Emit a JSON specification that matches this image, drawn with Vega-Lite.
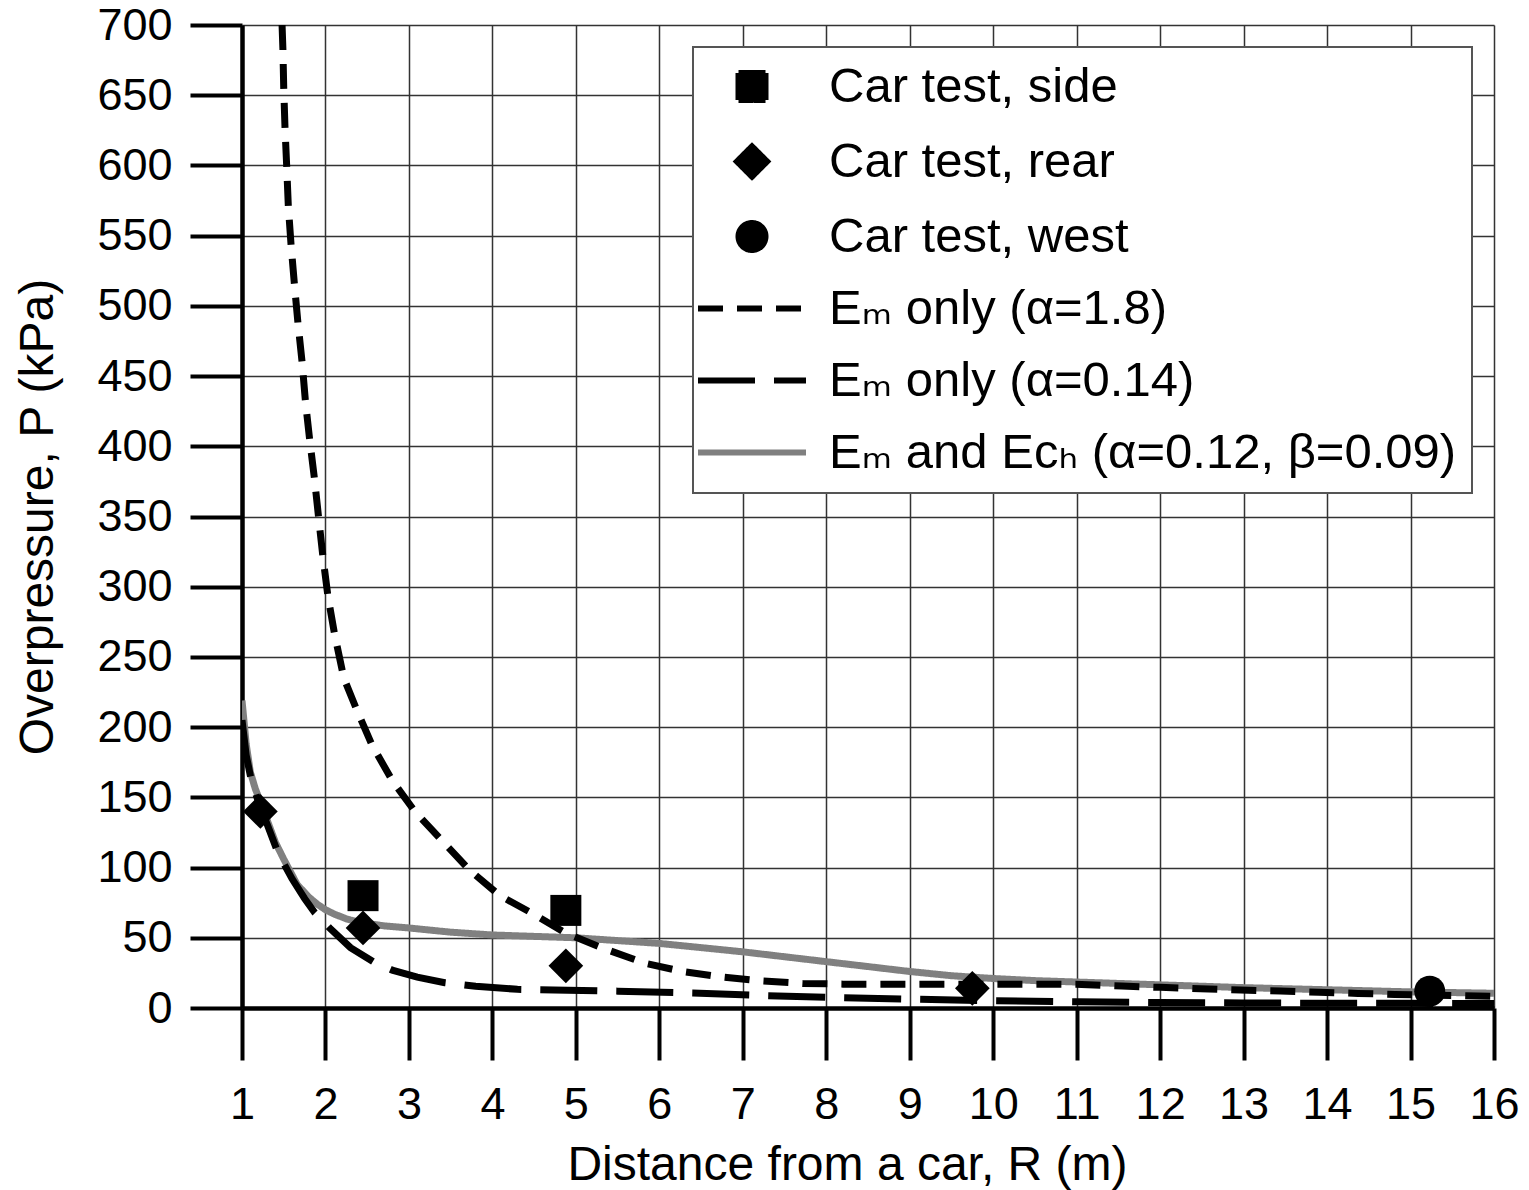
{
  "$schema": "https://vega.github.io/schema/vega-lite/v6.json",
  "width": 1252,
  "height": 983,
  "autosize": {"type": "none"},
  "padding": {"left": 242, "top": 25, "right": 35, "bottom": 182},
  "background": "white",
  "config": {
    "view": {"stroke": null},
    "axis": {
      "domainColor": "black", "domainWidth": 4.5,
      "tickColor": "black", "tickWidth": 4, "tickSize": 52,
      "labelFont": "Liberation Sans", "labelFontSize": 45, "labelColor": "black",
      "titleFont": "Liberation Sans", "titleFontSize": 48, "titleColor": "black", "titleFontWeight": "normal",
      "gridColor": "#333", "gridWidth": 1.5, "gridOpacity": 1,
      "labelFlush": false, "labelOverlap": false, "labelBound": false
    },
    "legend": {
      "orient": "top-right", "offset": 22, "padding": 15,
      "symbolOffset": 19.5, "labelOffset": 52.5, "rowPadding": 22,
      "symbolSize": 729, "symbolStrokeWidth": 6,
      "labelFont": "Liberation Sans, DejaVu Sans", "labelFontSize": 49, "labelColor": "black", "labelLimit": 0,
      "fillColor": "white", "strokeColor": "#555", "strokeWidth": 2
    }
  },
  "data": {
    "values": [
      {"series": "Eₘ and Eᴄₕ (α=0.12, β=0.09)", "R": 1.0, "P": 219},
      {"series": "Eₘ and Eᴄₕ (α=0.12, β=0.09)", "R": 1.05, "P": 188},
      {"series": "Eₘ and Eᴄₕ (α=0.12, β=0.09)", "R": 1.1, "P": 168},
      {"series": "Eₘ and Eᴄₕ (α=0.12, β=0.09)", "R": 1.16, "P": 156},
      {"series": "Eₘ and Eᴄₕ (α=0.12, β=0.09)", "R": 1.22, "P": 147},
      {"series": "Eₘ and Eᴄₕ (α=0.12, β=0.09)", "R": 1.3, "P": 134},
      {"series": "Eₘ and Eᴄₕ (α=0.12, β=0.09)", "R": 1.4, "P": 118},
      {"series": "Eₘ and Eᴄₕ (α=0.12, β=0.09)", "R": 1.5, "P": 106},
      {"series": "Eₘ and Eᴄₕ (α=0.12, β=0.09)", "R": 1.66, "P": 88},
      {"series": "Eₘ and Eᴄₕ (α=0.12, β=0.09)", "R": 1.8, "P": 79},
      {"series": "Eₘ and Eᴄₕ (α=0.12, β=0.09)", "R": 1.9, "P": 74},
      {"series": "Eₘ and Eᴄₕ (α=0.12, β=0.09)", "R": 2.0, "P": 70},
      {"series": "Eₘ and Eᴄₕ (α=0.12, β=0.09)", "R": 2.1, "P": 67},
      {"series": "Eₘ and Eᴄₕ (α=0.12, β=0.09)", "R": 2.25, "P": 63.5},
      {"series": "Eₘ and Eᴄₕ (α=0.12, β=0.09)", "R": 2.41, "P": 61},
      {"series": "Eₘ and Eᴄₕ (α=0.12, β=0.09)", "R": 2.7, "P": 58.5},
      {"series": "Eₘ and Eᴄₕ (α=0.12, β=0.09)", "R": 3.0, "P": 57},
      {"series": "Eₘ and Eᴄₕ (α=0.12, β=0.09)", "R": 3.5, "P": 54},
      {"series": "Eₘ and Eᴄₕ (α=0.12, β=0.09)", "R": 4.0, "P": 52},
      {"series": "Eₘ and Eᴄₕ (α=0.12, β=0.09)", "R": 4.5, "P": 51},
      {"series": "Eₘ and Eᴄₕ (α=0.12, β=0.09)", "R": 5.0, "P": 50},
      {"series": "Eₘ and Eᴄₕ (α=0.12, β=0.09)", "R": 5.5, "P": 48},
      {"series": "Eₘ and Eᴄₕ (α=0.12, β=0.09)", "R": 6.0, "P": 46},
      {"series": "Eₘ and Eᴄₕ (α=0.12, β=0.09)", "R": 6.5, "P": 43},
      {"series": "Eₘ and Eᴄₕ (α=0.12, β=0.09)", "R": 7.0, "P": 40},
      {"series": "Eₘ and Eᴄₕ (α=0.12, β=0.09)", "R": 7.5, "P": 36.5},
      {"series": "Eₘ and Eᴄₕ (α=0.12, β=0.09)", "R": 8.0, "P": 33},
      {"series": "Eₘ and Eᴄₕ (α=0.12, β=0.09)", "R": 8.5, "P": 29.5},
      {"series": "Eₘ and Eᴄₕ (α=0.12, β=0.09)", "R": 9.0, "P": 26},
      {"series": "Eₘ and Eᴄₕ (α=0.12, β=0.09)", "R": 9.5, "P": 23},
      {"series": "Eₘ and Eᴄₕ (α=0.12, β=0.09)", "R": 10.0, "P": 21},
      {"series": "Eₘ and Eᴄₕ (α=0.12, β=0.09)", "R": 10.5, "P": 19.5},
      {"series": "Eₘ and Eᴄₕ (α=0.12, β=0.09)", "R": 11.0, "P": 18.5},
      {"series": "Eₘ and Eᴄₕ (α=0.12, β=0.09)", "R": 12.0, "P": 16.5},
      {"series": "Eₘ and Eᴄₕ (α=0.12, β=0.09)", "R": 13.0, "P": 14.5},
      {"series": "Eₘ and Eᴄₕ (α=0.12, β=0.09)", "R": 14.0, "P": 13},
      {"series": "Eₘ and Eᴄₕ (α=0.12, β=0.09)", "R": 15.0, "P": 11.5},
      {"series": "Eₘ and Eᴄₕ (α=0.12, β=0.09)", "R": 16.0, "P": 10.5},

      {"series": "Eₘ only (α=1.8)", "R": 1.48, "P": 700},
      {"series": "Eₘ only (α=1.8)", "R": 1.49, "P": 683},
      {"series": "Eₘ only (α=1.8)", "R": 1.5, "P": 655},
      {"series": "Eₘ only (α=1.8)", "R": 1.515, "P": 627},
      {"series": "Eₘ only (α=1.8)", "R": 1.535, "P": 600},
      {"series": "Eₘ only (α=1.8)", "R": 1.555, "P": 571},
      {"series": "Eₘ only (α=1.8)", "R": 1.587, "P": 544},
      {"series": "Eₘ only (α=1.8)", "R": 1.627, "P": 516},
      {"series": "Eₘ only (α=1.8)", "R": 1.67, "P": 488},
      {"series": "Eₘ only (α=1.8)", "R": 1.72, "P": 460},
      {"series": "Eₘ only (α=1.8)", "R": 1.76, "P": 432},
      {"series": "Eₘ only (α=1.8)", "R": 1.81, "P": 405},
      {"series": "Eₘ only (α=1.8)", "R": 1.87, "P": 376},
      {"series": "Eₘ only (α=1.8)", "R": 1.92, "P": 348},
      {"series": "Eₘ only (α=1.8)", "R": 1.97, "P": 321},
      {"series": "Eₘ only (α=1.8)", "R": 2.03, "P": 293},
      {"series": "Eₘ only (α=1.8)", "R": 2.11, "P": 266},
      {"series": "Eₘ only (α=1.8)", "R": 2.22, "P": 235},
      {"series": "Eₘ only (α=1.8)", "R": 2.37, "P": 213},
      {"series": "Eₘ only (α=1.8)", "R": 2.56, "P": 187},
      {"series": "Eₘ only (α=1.8)", "R": 2.8, "P": 162},
      {"series": "Eₘ only (α=1.8)", "R": 3.07, "P": 140},
      {"series": "Eₘ only (α=1.8)", "R": 3.4, "P": 119},
      {"series": "Eₘ only (α=1.8)", "R": 3.73, "P": 98},
      {"series": "Eₘ only (α=1.8)", "R": 4.09, "P": 80},
      {"series": "Eₘ only (α=1.8)", "R": 4.49, "P": 67},
      {"series": "Eₘ only (α=1.8)", "R": 4.89, "P": 53},
      {"series": "Eₘ only (α=1.8)", "R": 5.35, "P": 42},
      {"series": "Eₘ only (α=1.8)", "R": 5.82, "P": 32},
      {"series": "Eₘ only (α=1.8)", "R": 6.28, "P": 26},
      {"series": "Eₘ only (α=1.8)", "R": 6.76, "P": 22},
      {"series": "Eₘ only (α=1.8)", "R": 7.24, "P": 19.2},
      {"series": "Eₘ only (α=1.8)", "R": 7.72, "P": 17.5},
      {"series": "Eₘ only (α=1.8)", "R": 8.2, "P": 17},
      {"series": "Eₘ only (α=1.8)", "R": 9.0, "P": 17},
      {"series": "Eₘ only (α=1.8)", "R": 10.0, "P": 17},
      {"series": "Eₘ only (α=1.8)", "R": 10.6, "P": 17},
      {"series": "Eₘ only (α=1.8)", "R": 11.06, "P": 16.8},
      {"series": "Eₘ only (α=1.8)", "R": 11.54, "P": 15.6},
      {"series": "Eₘ only (α=1.8)", "R": 12.0, "P": 14.7},
      {"series": "Eₘ only (α=1.8)", "R": 12.48, "P": 13.7},
      {"series": "Eₘ only (α=1.8)", "R": 12.96, "P": 12.8},
      {"series": "Eₘ only (α=1.8)", "R": 13.44, "P": 12.1},
      {"series": "Eₘ only (α=1.8)", "R": 13.9, "P": 11.2},
      {"series": "Eₘ only (α=1.8)", "R": 14.37, "P": 10.4},
      {"series": "Eₘ only (α=1.8)", "R": 14.81, "P": 9.7},
      {"series": "Eₘ only (α=1.8)", "R": 15.3, "P": 9.1},
      {"series": "Eₘ only (α=1.8)", "R": 16.0, "P": 8.3},

      {"series": "Eₘ only (α=0.14)", "R": 1.0, "P": 205},
      {"series": "Eₘ only (α=0.14)", "R": 1.05, "P": 180},
      {"series": "Eₘ only (α=0.14)", "R": 1.116, "P": 161},
      {"series": "Eₘ only (α=0.14)", "R": 1.22, "P": 143},
      {"series": "Eₘ only (α=0.14)", "R": 1.3, "P": 131},
      {"series": "Eₘ only (α=0.14)", "R": 1.435, "P": 110},
      {"series": "Eₘ only (α=0.14)", "R": 1.6, "P": 92},
      {"series": "Eₘ only (α=0.14)", "R": 1.75, "P": 78},
      {"series": "Eₘ only (α=0.14)", "R": 1.87, "P": 68},
      {"series": "Eₘ only (α=0.14)", "R": 2.05, "P": 57},
      {"series": "Eₘ only (α=0.14)", "R": 2.3, "P": 43},
      {"series": "Eₘ only (α=0.14)", "R": 2.57, "P": 33},
      {"series": "Eₘ only (α=0.14)", "R": 2.8, "P": 27},
      {"series": "Eₘ only (α=0.14)", "R": 3.1, "P": 22},
      {"series": "Eₘ only (α=0.14)", "R": 3.43, "P": 18},
      {"series": "Eₘ only (α=0.14)", "R": 3.8, "P": 15.5},
      {"series": "Eₘ only (α=0.14)", "R": 4.3, "P": 13.3},
      {"series": "Eₘ only (α=0.14)", "R": 4.9, "P": 12.7},
      {"series": "Eₘ only (α=0.14)", "R": 5.5, "P": 12},
      {"series": "Eₘ only (α=0.14)", "R": 6.4, "P": 10.7},
      {"series": "Eₘ only (α=0.14)", "R": 7.3, "P": 8.8},
      {"series": "Eₘ only (α=0.14)", "R": 8.2, "P": 7.3},
      {"series": "Eₘ only (α=0.14)", "R": 9.1, "P": 6.2},
      {"series": "Eₘ only (α=0.14)", "R": 10.0, "P": 5.2},
      {"series": "Eₘ only (α=0.14)", "R": 11.0, "P": 4.4},
      {"series": "Eₘ only (α=0.14)", "R": 12.0, "P": 3.9},
      {"series": "Eₘ only (α=0.14)", "R": 13.0, "P": 3.6},
      {"series": "Eₘ only (α=0.14)", "R": 14.0, "P": 3.4},
      {"series": "Eₘ only (α=0.14)", "R": 15.0, "P": 3.3},
      {"series": "Eₘ only (α=0.14)", "R": 16.0, "P": 3.2},

      {"series": "Car test, side", "R": 2.45, "P": 80},
      {"series": "Car test, side", "R": 4.88, "P": 69.5},
      {"series": "Car test, rear", "R": 1.22, "P": 140},
      {"series": "Car test, rear", "R": 2.45, "P": 57},
      {"series": "Car test, rear", "R": 4.88, "P": 30},
      {"series": "Car test, rear", "R": 9.75, "P": 14},
      {"series": "Car test, west", "R": 15.23, "P": 12}
    ]
  },
  "encoding": {
    "x": {
      "field": "R", "type": "quantitative",
      "scale": {"domain": [1, 16], "nice": false, "zero": false},
      "axis": {
        "values": [1, 2, 3, 4, 5, 6, 7, 8, 9, 10, 11, 12, 13, 14, 15, 16],
        "format": "d", "title": "Distance from a car, R (m)",
        "labelPadding": 22, "titlePadding": 14, "titleX": 605, "grid": true
      }
    },
    "y": {
      "field": "P", "type": "quantitative",
      "scale": {"domain": [0, 700], "nice": false},
      "axis": {
        "values": [0, 50, 100, 150, 200, 250, 300, 350, 400, 450, 500, 550, 600, 650, 700],
        "title": "Overpressure, P (kPa)",
        "labelPadding": 18, "titlePadding": 34, "grid": true
      }
    }
  },
  "layer": [
    {
      "transform": [{"filter": {"field": "series", "oneOf": ["Eₘ and Eᴄₕ (α=0.12, β=0.09)", "Eₘ only (α=1.8)", "Eₘ only (α=0.14)"]}}],
      "mark": {"type": "line", "strokeWidth": 7, "strokeCap": "butt", "clip": true},
      "encoding": {
        "color": {
          "field": "series", "type": "nominal",
          "scale": {
            "domain": ["Car test, side", "Car test, rear", "Car test, west", "Eₘ only (α=1.8)", "Eₘ only (α=0.14)", "Eₘ and Eᴄₕ (α=0.12, β=0.09)"],
            "range": ["black", "black", "black", "black", "black", "#808080"]
          },
          "legend": {"title": null}
        },
        "strokeDash": {
          "field": "series", "type": "nominal",
          "scale": {
            "domain": ["Car test, side", "Car test, rear", "Car test, west", "Eₘ only (α=1.8)", "Eₘ only (α=0.14)", "Eₘ and Eᴄₕ (α=0.12, β=0.09)"],
            "range": [[1, 0], [1, 0], [1, 0], [25, 14], [57, 19], [1, 0]]
          },
          "legend": {"title": null}
        }
      }
    },
    {
      "transform": [{"filter": {"field": "series", "oneOf": ["Car test, side", "Car test, rear", "Car test, west"]}}],
      "mark": {"type": "point", "filled": true, "size": 961, "opacity": 1},
      "encoding": {
        "color": {
          "field": "series", "type": "nominal",
          "scale": {
            "domain": ["Car test, side", "Car test, rear", "Car test, west", "Eₘ only (α=1.8)", "Eₘ only (α=0.14)", "Eₘ and Eᴄₕ (α=0.12, β=0.09)"],
            "range": ["black", "black", "black", "black", "black", "#808080"]
          },
          "legend": {"title": null}
        },
        "shape": {
          "field": "series", "type": "nominal",
          "scale": {
            "domain": ["Car test, side", "Car test, rear", "Car test, west", "Eₘ only (α=1.8)", "Eₘ only (α=0.14)", "Eₘ and Eᴄₕ (α=0.12, β=0.09)"],
            "range": ["square", "M-1.12,0L0,-1.12L1.12,0L0,1.12Z", "circle", "M-4,0H4", "M-4,0H4", "M-4,0H4"]
          },
          "legend": {"title": null}
        }
      }
    }
  ]
}
